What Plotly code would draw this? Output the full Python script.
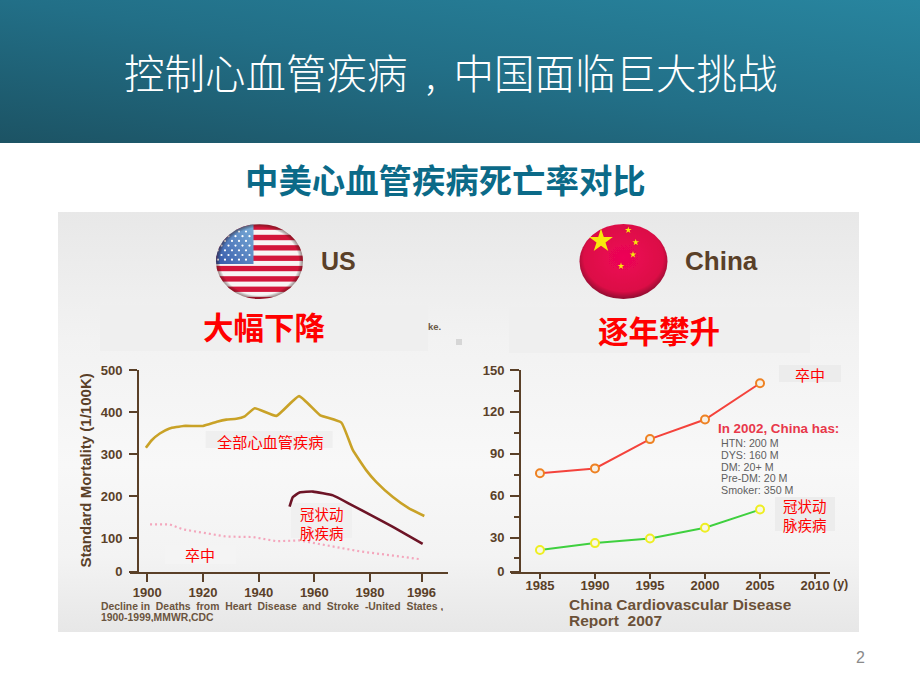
import base64
import math
import plotly.graph_objects as go

# ---------- data ----------
us_cvd_years = [1899.5, 1901.6, 1904.5, 1908, 1913, 1920, 1925, 1928.4, 1932, 1935, 1938.6, 1946.4, 1954.5,
                1962, 1969.7, 1973.8, 1978.6, 1982.2, 1988.2, 1994, 1999.5]
us_cvd_values = [315, 333, 349, 361, 367, 367, 377, 382, 384, 390, 409, 391, 438,
                 393, 375, 310, 262, 234, 198, 171, 153]
us_chd_years = [1951.1, 1952.3, 1954.7, 1959.5, 1966.7, 1972.6, 1979.8, 1988.2, 1998.9]
us_chd_values = [175, 198, 209, 211, 202, 182, 157, 127, 87]
us_stroke_years = [1901, 1908, 1913, 1920, 1928.4, 1938, 1946.4, 1954.7, 1964.3, 1976.2, 1988.2, 1998.3]
us_stroke_values = [133, 133, 121, 114, 104, 103, 93, 95, 83, 69, 59, 50]
us_tick_years = [1900, 1920, 1940, 1960, 1980, 1998.5]
us_tick_labels = ["1900", "1920", "1940", "1960", "1980", "1996"]
us_y_ticks = [20.6, 100, 200, 300, 400, 500]
us_y_labels = ["0", "100", "200", "300", "400", "500"]

cn_years = [1985, 1990, 1995, 2000, 2005]
cn_stroke = [76, 79.5, 100.5, 114.5, 140.5]
cn_chd = [21, 26, 29.3, 37, 50]
cn_tick_years = [1985, 1990, 1995, 2000, 2005, 2010]
cn_y_ticks = [5.5, 30, 60, 90, 120, 150]
cn_y_labels = ["0", "30", "60", "90", "120", "150"]
cn_y_minor = [15, 45, 75, 105, 135]
cn_facts = ["HTN: 200 M", "DYS: 160 M", "DM: 20+ M", "Pre-DM: 20 M", "Smoker: 350 M"]

W, H = 920, 690
BROWN = "#5a4028"
CJK = "Noto Sans CJK SC"
LAT = "Liberation Sans"


def star(cx, cy, r):
    pts = []
    for i in range(10):
        a = -math.pi / 2 + i * math.pi / 5
        rr = r if i % 2 == 0 else r * 0.382
        pts.append(f"{cx + rr * math.cos(a):.1f},{cy + rr * math.sin(a):.1f}")
    return f'<polygon points="{" ".join(pts)}" fill="#f7e80a"/>'


def rect(x0, y0, x1, y1, fill):
    return f'<rect x="{x0}" y="{y0}" width="{x1 - x0}" height="{y1 - y0}" fill="{fill}"/>'


# decorative slide background (band, panel, flags)
us_cx, us_cy, us_rx, us_ry = 259.5, 261.5, 43.5, 37.5
cn_cx, cn_cy, cn_rx, cn_ry = 623.5, 261.5, 44, 37.5
us_parts = [rect(215, 220, 305, 305, "#f8f4f4")]
for i in range(8):
    y = 224.5 + i * 10.35
    us_parts.append(rect(215, round(y, 1), 305, round(y + 5.3, 1), "#d3173a"))
us_parts.append(rect(215, 220, 253.5, 264, "url(#canton)"))
for r_i in range(7):
    y = 231.5 + r_i * 4.7
    for c_i in range(6):
        x = 218 + c_i * 7 + (3.5 if r_i % 2 else 0)
        if x < 252:
            us_parts.append(f'<circle cx="{x}" cy="{y}" r="1.1" fill="#ffffff"/>')

svg = f'''<svg xmlns="http://www.w3.org/2000/svg" width="{W}" height="{H}" viewBox="0 0 {W} {H}">
<defs>
<linearGradient id="band" x1="0" y1="1" x2="1" y2="0">
<stop offset="0" stop-color="#1c5364"/><stop offset="0.5" stop-color="#226f87"/><stop offset="1" stop-color="#28859f"/>
</linearGradient>
<linearGradient id="panel" x1="0" y1="0" x2="0" y2="1">
<stop offset="0" stop-color="#e8e8e8"/><stop offset="0.3" stop-color="#f2f2f2"/>
<stop offset="0.6" stop-color="#f8f8f8"/><stop offset="0.82" stop-color="#f3f3f3"/><stop offset="1" stop-color="#e7e7e7"/>
</linearGradient>
<linearGradient id="canton" x1="1" y1="0" x2="0" y2="1">
<stop offset="0" stop-color="#7fb4dc"/><stop offset="1" stop-color="#3456a8"/>
</linearGradient>
<radialGradient id="cnfill" cx="0.5" cy="0.45" r="0.55">
<stop offset="0" stop-color="#ee0558"/><stop offset="0.82" stop-color="#dc0a46"/><stop offset="1" stop-color="#8e1230"/>
</radialGradient>
<radialGradient id="rim" cx="0.5" cy="0.5" r="0.5">
<stop offset="0.9" stop-color="#000000" stop-opacity="0"/><stop offset="1" stop-color="#401010" stop-opacity="0.5"/>
</radialGradient>
<clipPath id="usclip"><ellipse cx="{us_cx}" cy="{us_cy}" rx="{us_rx}" ry="{us_ry}"/></clipPath>
<filter id="soft"><feGaussianBlur stdDeviation="0.45"/></filter>
</defs>
<rect width="{W}" height="{H}" fill="#ffffff"/>
<rect width="{W}" height="143" fill="url(#band)"/>
<rect x="58" y="212" width="801" height="420" fill="url(#panel)"/>
{rect(100, 305, 428, 351, "#efefef")}
{rect(509, 307, 810, 353, "#efefef")}
{rect(456, 339, 462, 345, "#d6d6d6")}
{rect(205.7, 431, 332.7, 448, "#efefef")}
{rect(291, 503, 352, 538, "#f0f0f0")}
{rect(165, 545, 236, 564, "#f4f4f4")}
{rect(779, 365, 841, 382, "#ececec")}
{rect(775, 497, 835, 531, "#ececec")}
<g filter="url(#soft)">
<g clip-path="url(#usclip)">{"".join(us_parts)}</g>
<ellipse cx="{us_cx}" cy="{us_cy}" rx="{us_rx}" ry="{us_ry}" fill="url(#rim)"/>
<ellipse cx="{cn_cx}" cy="{cn_cy}" rx="{cn_rx}" ry="{cn_ry}" fill="url(#cnfill)"/>
{star(601, 241, 12.5)}{star(628.3, 230, 3.6)}{star(635.7, 242.3, 3.6)}{star(633, 254.7, 3.6)}{star(621, 266, 3.6)}
</g>
</svg>'''
svg_uri = "data:image/svg+xml;base64," + base64.b64encode(svg.encode()).decode()

fig = go.Figure()

# ---------- US chart ----------
fig.add_trace(go.Scatter(x=us_cvd_years, y=us_cvd_values, mode="lines", xaxis="x", yaxis="y",
                         line=dict(color="#c9a227", width=2.6, shape="spline", smoothing=0.4), name="全部心血管疾病"))
fig.add_trace(go.Scatter(x=us_chd_years, y=us_chd_values, mode="lines", xaxis="x", yaxis="y",
                         line=dict(color="#6d1426", width=2.6, shape="spline", smoothing=0.4), name="冠状动脉疾病"))
fig.add_trace(go.Scatter(x=us_stroke_years, y=us_stroke_values, mode="lines", xaxis="x", yaxis="y",
                         line=dict(color="#f4a6bc", width=2.2, dash="2px,3px"), name="卒中"))

# ---------- China chart ----------
fig.add_trace(go.Scatter(x=cn_years, y=cn_stroke, mode="lines+markers", xaxis="x2", yaxis="y2",
                         line=dict(color="#f4433c", width=2),
                         marker=dict(size=8, color="#f6f0e6", line=dict(color="#ee8122", width=2)), name="卒中"))
fig.add_trace(go.Scatter(x=cn_years, y=cn_chd, mode="lines+markers", xaxis="x2", yaxis="y2",
                         line=dict(color="#3fd03f", width=2),
                         marker=dict(size=8, color="#f8f6e6", line=dict(color="#eeee22", width=2)), name="冠状动脉疾病"))


def px_x(p):
    return p / W


def px_y(p):
    return 1 - p / H


def note(text, x, y, size, color, family=LAT, bold=False, xanchor="center", textangle=0, weight=None, height=None):
    font = dict(family=family, size=size, color=color)
    if weight:
        font["weight"] = weight
    fig.add_annotation(text=f"<b>{text}</b>" if bold else text, x=px_x(x), y=px_y(y), xref="paper", yref="paper",
                       showarrow=False, xanchor=xanchor, yanchor="middle", textangle=textangle,
                       font=font, borderpad=0, height=height)


# slide texts
note("控制心血管疾病&nbsp;&nbsp;,&nbsp;&nbsp;中国面临巨大挑战", 450.5, 72, 40.5, "#ffffff", CJK, weight=300)
note("中美心血管疾病死亡率对比", 445, 178, 33.4, "#0b6a88", CJK, True)
note("大幅下降", 264, 326, 30.5, "#ff0000", CJK, True)
note("逐年攀升", 659, 330, 30.5, "#ff0000", CJK, True)
note("US", 338.5, 261, 25, BROWN, LAT, True)
note("China", 721, 261, 26, BROWN, LAT, True)
note("ke.", 427, 327, 9.5, "#6b5a48", LAT, True, "left")
note("2", 860, 657, 16, "#8a8a8a")

# US chart texts
note("Standard Mortality (1/100K)", 85, 470.5, 15, BROWN, LAT, True, textangle=-90)
note("全部心血管疾病", 269.5, 440.5, 15.2, "#ff0000", CJK)
note("冠状动<br>脉疾病", 321.5, 523, 14.5, "#ff0000", CJK)
note("卒中", 200, 554, 15, "#ff0000", CJK)
note("Decline&nbsp;in&nbsp;&nbsp;Deaths&nbsp;&nbsp;from&nbsp;&nbsp;Heart&nbsp;&nbsp;Disease&nbsp;&nbsp;and&nbsp;&nbsp;Stroke&nbsp;&nbsp;-United&nbsp;&nbsp;States&nbsp;,",
     100, 606, 10.4, "#6b5540", LAT, True, "left", height=10)
note("1900-1999,MMWR,CDC", 100, 617, 10.4, "#6b5540", LAT, True, "left", height=10)

# China chart texts
note("卒中", 810, 374.5, 15, "#ff0000", CJK)
note("冠状动<br>脉疾病", 805, 515.25, 14.5, "#ff0000", CJK)
note("In 2002, China has:", 716.5, 428, 13.4, "#e8384a", LAT, True, "left", height=13)
for i, fact in enumerate(cn_facts):
    note(fact, 720, 442.7 + i * 11.65, 10.7, "#5f5f5f", LAT, False, "left", height=11)
note("China Cardiovascular Disease", 567.5, 604, 15.5, "#6b5138", LAT, True, "left", height=15)
note("Report&nbsp;&nbsp;2007", 567.5, 620, 15.5, "#6b5138", LAT, True, "left", height=15)
note("(y)", 840.5, 584, 12.5, BROWN, LAT, True)

axis_common = dict(showgrid=False, zeroline=False, showline=True, linecolor=BROWN, linewidth=2,
                   tickcolor=BROWN, tickwidth=2, ticks="outside", automargin=False,
                   tickfont=dict(family=LAT, size=13, color=BROWN), tickmode="array")
bold = lambda labels: [f"<b>{t}</b>" for t in labels]

y_domain = [px_y(571.7), px_y(370)]

fig.update_layout(
    width=W, height=H, margin=dict(l=0, r=0, t=0, b=0, pad=0, autoexpand=False), showlegend=False,
    paper_bgcolor="#ffffff", plot_bgcolor="rgba(0,0,0,0)",
    images=[dict(source=svg_uri, xref="paper", yref="paper", x=0, y=1, sizex=1, sizey=1,
                 xanchor="left", yanchor="top", sizing="stretch", layer="below")],
    xaxis=dict(axis_common, domain=[px_x(130), px_x(448)], range=[1893.8, 2008], anchor="y",
               tickvals=us_tick_years, ticktext=bold(us_tick_labels), ticklen=8, ticklabelstandoff=0),
    yaxis=dict(axis_common, domain=y_domain, range=[20.6, 500], anchor="free", position=px_x(138),
               tickvals=us_y_ticks, ticktext=bold(us_y_labels), ticklen=8, ticklabelstandoff=4),
    xaxis2=dict(axis_common, domain=[px_x(510.7), px_x(830)], range=[1982.34, 2011.36], anchor="y2",
                tickvals=cn_tick_years, ticktext=bold([str(v) for v in cn_tick_years]), ticklen=5, ticklabelstandoff=-4),
    yaxis2=dict(axis_common, domain=y_domain, range=[5.5, 150], anchor="free", position=px_x(520),
                tickvals=cn_y_ticks, ticktext=bold(cn_y_labels), ticklen=9, ticklabelstandoff=3,
                minor=dict(tickmode="array", tickvals=cn_y_minor, ticks="outside", ticklen=5,
                           tickcolor=BROWN, tickwidth=2)),
)

fig.write_html("out.html", config=dict(displayModeBar=False),
               post_script="document.body.style.margin='0';document.body.style.overflow='hidden';")
